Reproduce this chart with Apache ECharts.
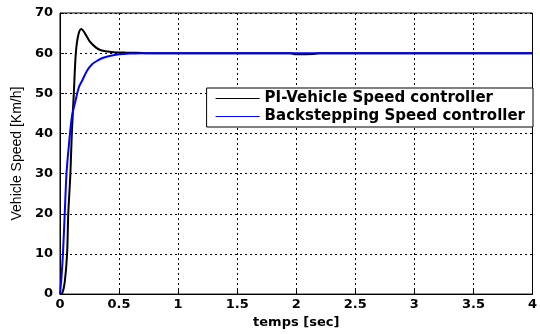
<!DOCTYPE html>
<html><head><meta charset="utf-8">
<script src="https://cdn.jsdelivr.net/npm/echarts@6/dist/echarts.min.js"></script>
<style>html,body{margin:0;padding:0;background:#fff}#c{width:540px;height:334px}</style>
</head><body><div id="c"></div>
<script>
const seriesNames = ['PI-Vehicle Speed controller', 'Backstepping Speed controller'];
const piTime  = [0, 0.02, 0.04, 0.06, 0.07, 0.088, 0.1, 0.117, 0.134, 0.155, 0.18, 0.21, 0.25, 0.3, 0.34, 0.4, 0.45, 0.55, 0.65, 0.75, 1.0, 1.95, 2.0, 2.15, 2.2, 4.0];
const piSpeed = [0, 0.3, 3, 10, 20, 30, 40, 50, 60, 64.5, 66, 65, 63, 61.5, 60.8, 60.4, 60.25, 60.15, 60.1, 60, 60, 60, 59.7, 59.8, 60, 60];
const bsTime  = [0, 0.012, 0.025, 0.04, 0.055, 0.075, 0.1, 0.13, 0.16, 0.19, 0.23, 0.27, 0.32, 0.36, 0.42, 0.5, 0.6, 0.7, 1.0, 4.0];
const bsSpeed = [0, 4, 10, 20, 30, 37, 44, 48, 51.5, 53.3, 55.7, 57.2, 58.2, 58.8, 59.3, 59.7, 59.9, 60, 60, 60];
const xTicks = [0, 0.5, 1, 1.5, 2, 2.5, 3, 3.5, 4];
const yTicks = [0, 10, 20, 30, 40, 50, 60, 70];

const zip = (a, b) => a.map((t, i) => [t, b[i]]);
const boldFont = 'DejaVu Sans, Verdana, sans-serif';
const normFont = 'Liberation Sans, Arial, sans-serif';
const chart = echarts.init(document.getElementById('c'), null, {renderer: 'canvas'});
chart.setOption({
  animation: false,
  backgroundColor: '#fff',
  grid: {left: 60, right: 5, top: 13, bottom: 39, show: true, borderColor: '#000', borderWidth: 1, backgroundColor: '#fff'},
  legend: {
    right: 7, top: 88, orient: 'vertical', itemGap: 3, itemWidth: 44, itemHeight: 14,
    backgroundColor: '#fff', borderColor: '#000', borderWidth: 1, padding: [3, 8, 3, 9],
    textStyle: {fontFamily: boldFont, fontWeight: 'bold', fontSize: 15, color: '#000'},
    data: seriesNames.map(n => ({name: n, icon: 'path://M0,6.5 L44,6.5 L44,7.5 L0,7.5 Z'}))
  },
  xAxis: {
    type: 'value', min: xTicks[0], max: xTicks[xTicks.length - 1], interval: 0.5,
    name: 'temps [sec]', nameLocation: 'middle', nameGap: 13,
    nameTextStyle: {fontFamily: boldFont, fontWeight: 'bold', fontSize: 13, color: '#000', verticalAlign: 'top'},
    axisLine: {lineStyle: {color: '#000'}},
    axisTick: {inside: true, length: 4, lineStyle: {color: '#000'}},
    axisLabel: {fontFamily: boldFont, fontWeight: 'bold', fontSize: 13, color: '#000', margin: 4, showMaxLabel: true},
    splitLine: {show: true, lineStyle: {color: '#000', type: [2, 3], width: 1}}
  },
  yAxis: {
    type: 'value', min: yTicks[0], max: yTicks[yTicks.length - 1], interval: 10,
    name: 'Vehicle Speed [Km/h]', nameLocation: 'middle', nameGap: 33,
    nameTextStyle: {fontFamily: normFont, fontSize: 14, color: '#000'},
    axisLine: {show: true, lineStyle: {color: '#000'}},
    axisTick: {inside: true, length: 4, lineStyle: {color: '#000'}},
    axisLabel: {fontFamily: boldFont, fontWeight: 'bold', fontSize: 13, color: '#000', margin: 7},
    splitLine: {show: true, lineStyle: {color: '#000', type: [2, 3], width: 1}}
  },
  series: [
    {name: seriesNames[0], type: 'line', data: zip(piTime, piSpeed), showSymbol: false, smooth: 0.3,
     lineStyle: {color: '#000', width: 2}, itemStyle: {color: '#000'}, z: 2},
    {name: seriesNames[1], type: 'line', data: zip(bsTime, bsSpeed), showSymbol: false, smooth: 0.3,
     lineStyle: {color: '#0000ff', width: 2}, itemStyle: {color: '#0000ff'}, z: 3}
  ]
});
</script></body></html>
